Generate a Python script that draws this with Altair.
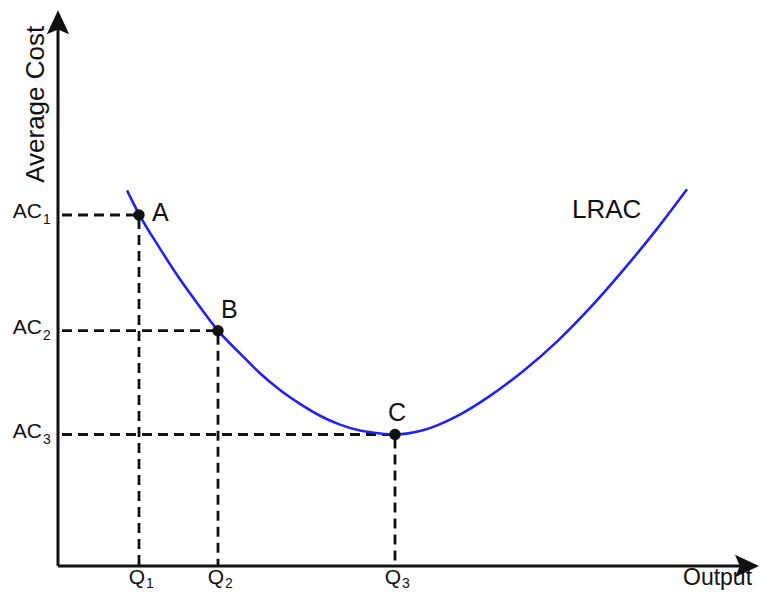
import altair as alt
import pandas as pd

# ---- values (output units / cost units) ----
POINT_NAMES = ["A", "B", "C"]
SUBSCRIPTS = ["1", "2", "3"]
Q_VALUES = [8.1, 16.0, 33.7]
AC_VALUES = [35.5, 23.8, 13.3]

CURVE_X = [6.9, 8.1, 10.2, 12.2, 14.2, 16.0, 18.2, 20.2, 22.2, 24.2, 26.2, 28.2, 30.2, 32.2, 33.7,
           36.5, 39.9, 43.2, 46.5, 49.9, 53.2, 56.5, 59.9, 62.9]
CURVE_Y = [38.0, 35.6, 32.1, 29.0, 26.2, 23.8, 21.5, 19.5, 17.8, 16.4, 15.2, 14.3, 13.7, 13.4, 13.3,
           13.72, 15.15, 17.2, 19.7, 22.7, 26.1, 29.9, 34.1, 38.1]

X_AXIS_END = 68.5
Y_AXIS_END = 54.6
X_DOMAIN = [-5, 70.3]
Y_DOMAIN = [-2.63, 56.44]

FONT = "Liberation Sans"
INK = "#111111"

xs = alt.Scale(domain=X_DOMAIN, nice=False, zero=False)
ys = alt.Scale(domain=Y_DOMAIN, nice=False, zero=False)

curve = pd.DataFrame({"x": CURVE_X, "y": CURVE_Y})
pts = pd.DataFrame({"name": POINT_NAMES, "sub": SUBSCRIPTS, "q": Q_VALUES, "ac": AC_VALUES})

seg_rows = []
for q, ac in zip(Q_VALUES, AC_VALUES):
    seg_rows.append({"x": 0, "x2": q, "y": ac, "y2": ac})
    seg_rows.append({"x": q, "x2": q, "y": ac, "y2": 0})
segs = pd.DataFrame(seg_rows)

axes_df = pd.DataFrame([
    {"x": 0, "x2": X_AXIS_END, "y": 0, "y2": 0},
    {"x": 0, "x2": 0, "y": 0, "y2": Y_AXIS_END},
])
arrows = pd.DataFrame([
    {"x": X_AXIS_END, "y": 0, "a": 90},
    {"x": 0, "y": Y_AXIS_END, "a": 0},
])


def X(f="x"):
    return alt.X(f"{f}:Q", scale=xs, axis=None)


def Y(f="y"):
    return alt.Y(f"{f}:Q", scale=ys, axis=None)


dashed = alt.Chart(segs).mark_rule(
    color=INK, strokeWidth=2.8, strokeDash=[10, 6], strokeDashOffset=-4
).encode(x=X(), x2="x2:Q", y=Y(), y2="y2:Q")

axis_lines = alt.Chart(axes_df).mark_rule(color=INK, strokeWidth=3).encode(
    x=X(), x2="x2:Q", y=Y(), y2="y2:Q")

arrow_path = "M0,-1L0.7,0.5L0,0.2L-0.7,0.5Z"
arrow_marks = alt.Chart(arrows).mark_point(
    shape=arrow_path, filled=True, color=INK, size=1024, opacity=1, strokeWidth=0
).encode(x=X(), y=Y(), angle=alt.Angle("a:Q", scale=None))

line = alt.Chart(curve).mark_line(
    color="#2222ee", strokeWidth=2.6, interpolate="monotone"
).encode(x=X(), y=Y())

dots = alt.Chart(pts).mark_circle(size=130, color=INK, opacity=1).encode(
    x=X("q"), y=Y("ac"))


def point_label(name, dx, dy, align):
    return alt.Chart(pts).transform_filter(alt.datum.name == name).mark_text(
        font=FONT, fontSize=25, color=INK, align=align, baseline="alphabetic", dx=dx, dy=dy
    ).encode(x=X("q"), y=Y("ac"), text="name:N")


lab_a = point_label("A", 13, 6, "left")
lab_b = point_label("B", 3, -13, "left")
lab_c = point_label("C", 2, -14, "center")

ac_text = alt.Chart(pts).transform_calculate(zero="0").mark_text(
    font=FONT, fontSize=21, color=INK, align="right", baseline="alphabetic", dx=-16, dy=3
).encode(x=X("zero"), y=Y("ac"), text=alt.value("AC"))
ac_sub = alt.Chart(pts).transform_calculate(zero="0").mark_text(
    font=FONT, fontSize=14, color=INK, align="left", baseline="alphabetic", dx=-15, dy=9
).encode(x=X("zero"), y=Y("ac"), text="sub:N")

q_text = alt.Chart(pts).transform_calculate(zero="0").mark_text(
    font=FONT, fontSize=21, color=INK, align="center", baseline="alphabetic", dx=-2, dy=18
).encode(x=X("q"), y=Y("zero"), text=alt.value("Q"))
q_sub = alt.Chart(pts).transform_calculate(zero="0").mark_text(
    font=FONT, fontSize=14, color=INK, align="left", baseline="alphabetic", dx=7, dy=22
).encode(x=X("q"), y=Y("zero"), text="sub:N")

lrac_df = pd.DataFrame([{"x": 51.4, "y": 35.2, "t": "LRAC"}])
lrac = alt.Chart(lrac_df).mark_text(
    font=FONT, fontSize=26, color=INK, align="left", baseline="alphabetic"
).encode(x=X(), y=Y(), text="t:N")

output_df = pd.DataFrame([{"x": 62.5, "y": 0, "t": "Output"}])
output = alt.Chart(output_df).mark_text(
    font=FONT, fontSize=23, color=INK, align="left", baseline="alphabetic", dy=19
).encode(x=X(), y=Y(), text="t:N")

ytitle_df = pd.DataFrame([{"x": -2.2, "y": 46.7, "t": "Average Cost"}])
ytitle = alt.Chart(ytitle_df).mark_text(
    font=FONT, fontSize=26, color=INK, align="center", baseline="middle", angle=270
).encode(x=X(), y=Y(), text="t:N")

chart = alt.layer(
    dashed, axis_lines, arrow_marks, line, dots,
    lab_a, lab_b, lab_c, ac_text, ac_sub, q_text, q_sub, lrac, output, ytitle
).properties(
    width=753, height=584, padding=0, autosize="none", background="white"
).configure_view(stroke=None)

chart.save("out.html", embed_options={"renderer": "svg", "actions": False})
